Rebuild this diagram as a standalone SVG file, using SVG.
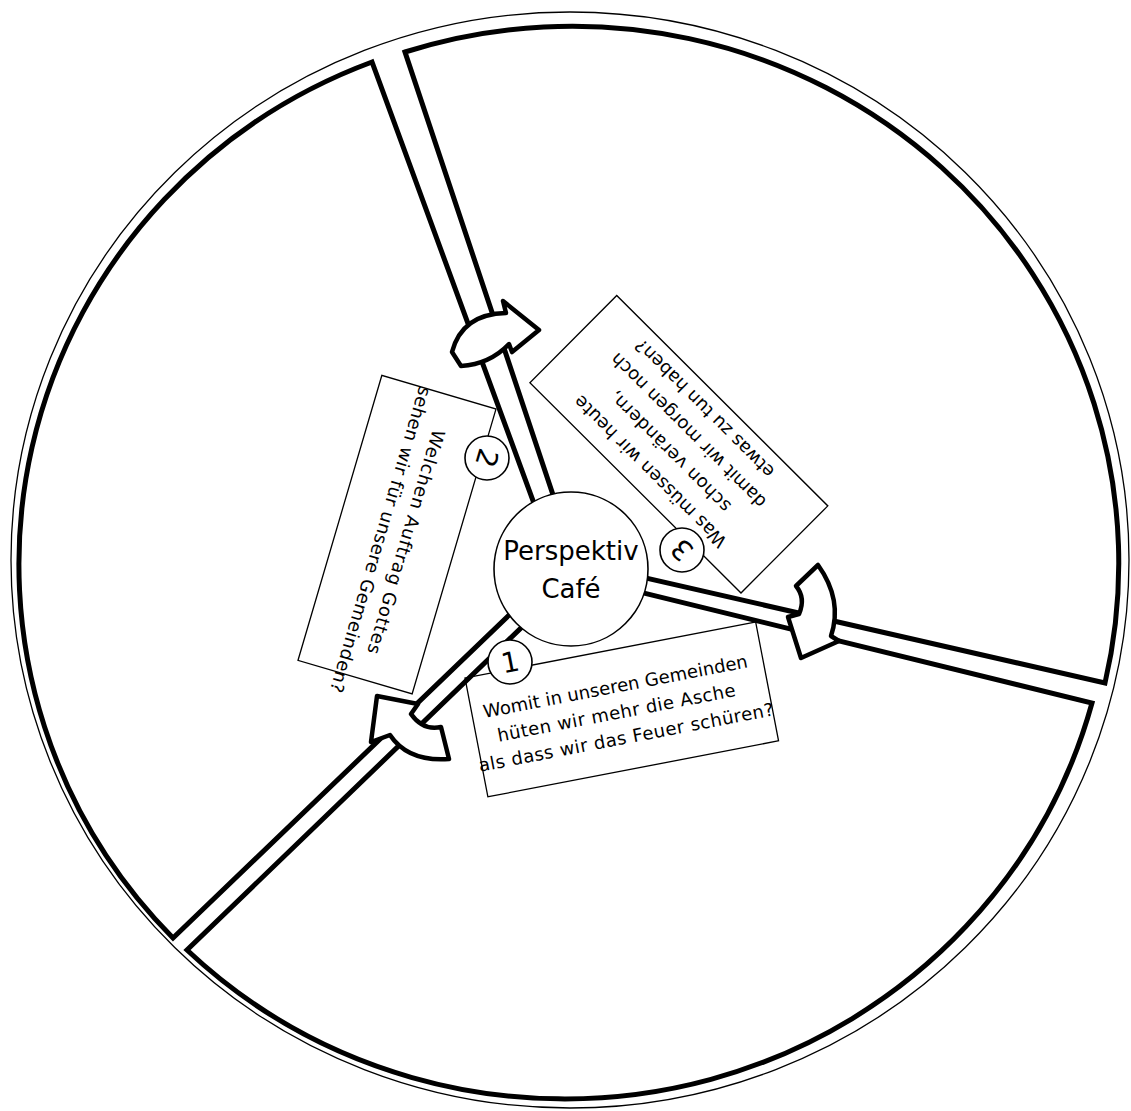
<svg xmlns="http://www.w3.org/2000/svg" width="1131" height="1111" viewBox="0 0 1131 1111">
<style>
.box{fill:#fff;stroke:#000;stroke-width:1.3}
.sector{fill:none;stroke:#000;stroke-width:5;stroke-linejoin:miter;stroke-miterlimit:20}
.arrow{fill:#fff;stroke:#000;stroke-width:4.5;stroke-linejoin:round}
.num{fill:#fff;stroke:#000;stroke-width:1.6}
.hub{fill:#fff;stroke:#000;stroke-width:1.6}
text{font-family:"DejaVu Sans","Liberation Sans",sans-serif;fill:#000}
.t{font-size:18px;text-anchor:middle}
.n{font-size:28px;text-anchor:middle}
.c{font-size:26px;text-anchor:middle}
</style>
<rect width="1131" height="1111" fill="#fff"/>
<g id="frame">
<ellipse cx="570" cy="560" rx="559" ry="548" fill="none" stroke="#000" stroke-width="1.3"/>
</g>
<g id="box1" transform="translate(465,678) rotate(-10.9)">
<rect class="box" width="296" height="121"/>
<text class="t" x="146" y="43" textLength="269">Womit in unseren Gemeinden</text>
<text class="t" x="142" y="69" textLength="242">hüten wir mehr die Asche</text>
<text class="t" x="147" y="95" textLength="300">als dass wir das Feuer schüren?</text>
</g>
<g id="box2" transform="translate(496,409) rotate(106.4)">
<rect class="box" width="297" height="119"/>
<text class="t" x="153" y="55" textLength="233">Welchen Auftrag Gottes</text>
<text class="t" x="158" y="80" textLength="318">sehen wir für unsere Gemeinden?</text>
</g>
<g id="box3" transform="translate(741,593) rotate(224.9)">
<rect class="box" width="298" height="123"/>
<text class="t" x="150" y="28" textLength="207">Was müssen wir heute</text>
<text class="t" x="150" y="56" textLength="163">schon verändern,</text>
<text class="t" x="152" y="84" textLength="211">damit wir morgen noch</text>
<text class="t" x="156" y="111" textLength="188">etwas zu tun haben?</text>
</g>
<g id="connectors">
<path class="sector" d="M 575.4,561.9 L 405,52 A 546.5 537 0 0 1 1105,683 Z"/>
<path class="sector" d="M 574.8,576.1 L 1092,703 A 546.5 537 0 0 1 187,950 Z"/>
<path class="sector" d="M 557.8,568.3 L 173,938 A 546.5 537 0 0 1 372,62 Z"/>
<path class="arrow" d="M 452,352 Q 462,314 506,313 L 503,301 L 539,330 L 512,352 L 509,344 Q 490,364 461,366 Z"/>
<path class="arrow" d="M 796,586 L 818,565 Q 843,600 831,636 L 839,641 L 801,658 L 788,617 L 799,614 Q 806,598 796,586 Z"/>
<path class="arrow" d="M 377,696 L 418,704 L 411,714 Q 423,731 441,727 L 449,759 Q 408,762 390,735 L 371,742 Z"/>
</g>
<g id="hub">
<circle class="hub" cx="571" cy="569" r="77"/>
<text class="c" x="571" y="560">Perspektiv</text>
<text class="c" x="571" y="598">Café</text>
</g>
<g id="num1">
<circle class="num" cx="510" cy="662" r="22"/>
<text class="n" transform="translate(510,662) rotate(-10.9)" x="0" y="10">1</text>
</g>
<g id="num2">
<circle class="num" cx="487" cy="458" r="22"/>
<text class="n" transform="translate(487,458) rotate(106.4)" x="0" y="10">2</text>
</g>
<g id="num3">
<circle class="num" cx="682" cy="550" r="22"/>
<text class="n" transform="translate(682,550) rotate(224.9)" x="0" y="10">3</text>
</g>
</svg>
